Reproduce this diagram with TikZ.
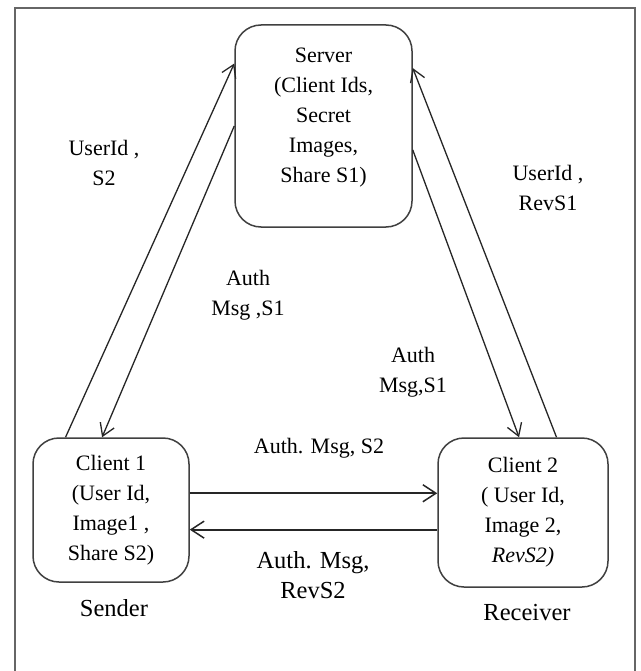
\documentclass[tikz,border=0pt]{standalone}
\usepackage{fontspec}
\setmainfont{Liberation Serif}
\usetikzlibrary{arrows.meta,calc}
\begin{document}
\begin{tikzpicture}[x=1pt,y=-1pt,
  box/.style={draw=black!75,line width=1.5pt,rounded corners=26pt,inner sep=0pt},
  boxtxt/.style={align=center,font=\fontsize{22}{30}\selectfont,inner sep=0pt},
  lbl/.style={align=center,font=\fontsize{22}{30}\selectfont,inner sep=0pt},
  biglbl/.style={align=center,font=\fontsize{24.5}{30}\selectfont,inner sep=0pt},
  arr/.style={draw=black!85,line width=1.3pt,-{Straight Barb[length=12pt,width=15pt,line width=1.3pt]}},
  harr/.style={draw=black!85,line width=2pt,-{Straight Barb[length=13pt,width=17pt,line width=1.5pt]}}
]
\useasboundingbox (0,0) rectangle (640,671);
\fill[white] (0,0) rectangle (640,671);
% frame
\draw[black!60,line width=2pt] (15,672) -- (15,8) -- (635,8) -- (635,672);

% boxes
\node[box,minimum width=177pt,minimum height=202pt] (s) at (323.5,126) {};
\node[boxtxt] (stxt) at (323.5,118) {Server\\(Client Ids,\\Secret\\Images,\\Share S1)};
\node[box,minimum width=156pt,minimum height=144pt,boxtxt] (c1) at (111,510) {Client 1\\(User Id,\\Image1 ,\\Share S2)};
\node[box,minimum width=170pt,minimum height=149pt,boxtxt] (c2) at (523,512.5) {Client 2\\( User Id,\\Image 2,\\\textit{RevS2)}};

% diagonal arrows
\draw[arr] (c1.122.6) -- (s.145.4);
\draw[arr] (s.180.6) -- (c1.97);
\draw[arr] (s.-15.2) -- (c2.93);
\draw[arr] (c2.66.8) -- (s.33.7);

% horizontal arrows
\draw[harr] (c1.12.3) -- (c1.12.3 -| c2.west);
\draw[harr] (c2.west |- c1.-14.4) -- (c1.-14.4);

% labels
\node[lbl] (l1) at (104,163) {UserId ,\\S2};
\node[lbl] (l2) at (548,188) {UserId ,\\RevS1};
\node[lbl] (l3) at (248,295) {Auth\\Msg ,S1};
\node[lbl] (l4) at (413,372) {Auth\\Msg,S1};
\node[lbl] (l5) at (319,448) {Auth. Msg, S2};
\node[biglbl] (l6) at (313,575) {Auth. Msg,\\RevS2};
\node[biglbl] (snd) at (114,608) {Sender};
\node[biglbl] (rcv) at (527,613) {Receiver};
\end{tikzpicture}
\end{document}
